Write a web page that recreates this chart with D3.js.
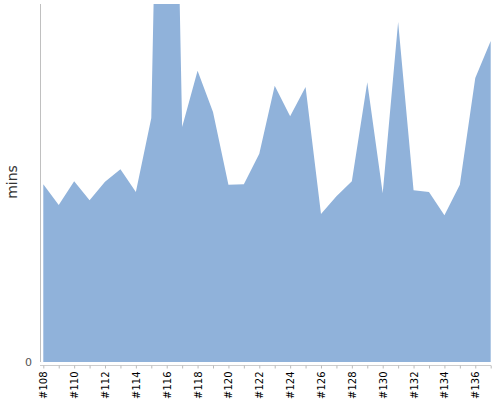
<!DOCTYPE html>
<html>
<head>
<meta charset="utf-8">
<script src="https://cdn.jsdelivr.net/npm/d3@7/dist/d3.min.js"></script>
<style>
  html, body { margin: 0; padding: 0; background: #fff; }
  svg { display: block; font-family: "DejaVu Sans", Verdana, sans-serif; }
</style>
</head>
<body>
<svg id="chart" width="500" height="400"></svg>
<script>
const categories = ["#108","#109","#110","#111","#112","#113","#114","#115","#116","#117",
  "#118","#119","#120","#121","#122","#123","#124","#125","#126","#127",
  "#128","#129","#130","#131","#132","#133","#134","#135","#136","#137"];
const durations = [29.8, 26.3, 30.3, 27.1, 30.2, 32.3, 28.5, 40.9, 169.6, 39.4,
  48.8, 41.9, 29.7, 29.8, 34.9, 46.3, 41.2, 46.1, 24.8, 27.8,
  30.3, 46.9, 28.3, 57.0, 28.8, 28.5, 24.6, 29.7, 47.6, 53.8];
const yTicks = [0];
const yLabel = "mins";

const svg = d3.select("#chart");
const plotTop = 4, plotBottom = 362, plotLeft = 40, plotRight = 495;

const x = d3.scalePoint().domain(categories).range([43.3, 490.7]);
const y = d3.scaleLinear().domain([0, 60]).range([plotBottom, plotTop]);

svg.append("defs").append("clipPath").attr("id", "clip")
  .append("rect").attr("x", plotLeft).attr("y", plotTop)
  .attr("width", plotRight - plotLeft).attr("height", plotBottom - plotTop);

const data = categories.map((c, i) => ({c, v: durations[i]}));
const area = d3.area().x(d => x(d.c)).y0(y(0)).y1(d => y(d.v));

svg.append("path").datum(data)
  .attr("clip-path", "url(#clip)")
  .attr("d", area)
  .attr("fill", "#90b2da");

// y axis line
svg.append("line").attr("x1", plotLeft + 0.5).attr("x2", plotLeft + 0.5)
  .attr("y1", plotTop).attr("y2", plotBottom)
  .attr("stroke", "#c0c0c0").attr("stroke-width", 1);

svg.selectAll(".ytick").data(yTicks).enter().append("text")
  .attr("x", 32).attr("y", d => y(d)).attr("dy", "0.35em")
  .attr("text-anchor", "end").attr("font-size", 11).attr("fill", "#555")
  .text(d => d);

svg.append("text")
  .attr("transform", "translate(17,182) rotate(-90)")
  .attr("text-anchor", "middle").attr("font-size", 14).attr("fill", "#333")
  .text(yLabel);

// x axis
const xAxis = d3.axisBottom(x).tickSize(3).tickSizeOuter(0)
  .tickFormat((d, i) => i % 2 === 0 ? d : "");
const gx = svg.append("g").attr("transform", "translate(0,365.5)").call(xAxis);
gx.select(".domain").attr("stroke", "#ccc").attr("d", "M40,0H491");
gx.selectAll(".tick line").attr("stroke", "#bbb");
gx.selectAll(".tick text")
  .attr("font-family", "DejaVu Sans, Verdana, sans-serif")
  .attr("font-size", 10).attr("fill", "#000")
  .attr("transform", "rotate(-90)")
  .attr("text-anchor", "end")
  .attr("x", -6).attr("y", 0).attr("dy", "0.35em");
</script>
</body>
</html>
